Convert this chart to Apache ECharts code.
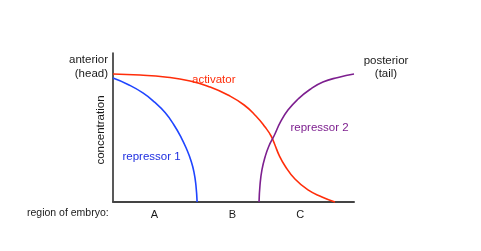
<!DOCTYPE html>
<html>
<head>
<meta charset="utf-8">
<script src="https://cdn.jsdelivr.net/npm/echarts@6/dist/echarts.min.js"></script>
<style>
  html, body { margin: 0; padding: 0; background: #fff; }
  #chart { width: 481px; height: 251px; }
</style>
</head>
<body>
<div id="chart"></div>
<script>
// Position along the embryo (0 = anterior, 100 = posterior) and relative concentration (0-100)
const activatorX = [0, 11.2, 21.6, 32.0, 40.2, 47.7, 54.4, 59.3, 63.1, 65.6, 67.2, 68.9, 71.4, 75.5, 80.9, 86.7, 92.1];
const activatorY = [85.9, 85.2, 83.9, 81.2, 77.2, 71.8, 65.1, 57.7, 50.3, 44.3, 38.3, 31.5, 24.2, 15.4, 8.1, 3.4, 0];

const repressor1X = [0, 6.2, 12.4, 17.4, 21.6, 25.3, 28.2, 30.7, 32.4, 33.6, 34.4, 34.9];
const repressor1Y = [83.2, 78.9, 73.2, 66.8, 60.1, 51.7, 43.6, 34.9, 27.5, 20.1, 11.4, 0];

const repressor2X = [60.6, 61.0, 61.8, 63.1, 64.7, 66.8, 69.5, 72.6, 76.8, 81.7, 87.1, 93.4, 100];
const repressor2Y = [0, 11.4, 21.5, 30.2, 37.6, 44.3, 53.7, 61.7, 69.1, 75.5, 80.5, 83.6, 85.9];

const regionLabels = ['A', 'B', 'C'];

const pairs = (xs, ys) => xs.map((x, i) => [x, ys[i]]);

const FONT = 'Liberation Sans, Arial, sans-serif';
const chart = echarts.init(document.getElementById('chart'), null, { renderer: 'canvas' });

const textEl = (x, y, text, opts) => ({
  type: 'text',
  x: x, y: y,
  style: Object.assign({
    text: text,
    fill: '#1a1a1a',
    font: '11.5px ' + FONT,
    textAlign: 'left',
    textVerticalAlign: 'middle'
  }, opts || {})
});

const regionX = [154.5, 232.5, 300.3];

chart.setOption({
  animation: false,
  backgroundColor: '#ffffff',
  grid: { left: 113, right: 127, top: 53, bottom: 49, containLabel: false },
  xAxis: {
    type: 'value', min: 0, max: 100,
    axisLine: { show: true, onZero: false, lineStyle: { color: '#444', width: 2 } },
    axisTick: { show: false }, axisLabel: { show: false }, splitLine: { show: false }
  },
  yAxis: {
    type: 'value', min: 0, max: 100,
    axisLine: { show: true, onZero: false, lineStyle: { color: '#222', width: 1.5 } },
    axisTick: { show: false }, axisLabel: { show: false }, splitLine: { show: false }
  },
  series: [
    {
      name: 'activator', type: 'line', data: pairs(activatorX, activatorY),
      smooth: 0.5, showSymbol: false, clip: false,
      lineStyle: { color: '#ff2d0a', width: 1.6 }
    },
    {
      name: 'repressor 1', type: 'line', data: pairs(repressor1X, repressor1Y),
      smooth: 0.5, showSymbol: false, clip: false,
      lineStyle: { color: '#1f45ff', width: 1.6 }
    },
    {
      name: 'repressor 2', type: 'line', data: pairs(repressor2X, repressor2Y),
      smooth: 0.5, showSymbol: false, clip: false,
      lineStyle: { color: '#7d1f8f', width: 1.6 }
    }
  ],
  graphic: [
    textEl(108, 60, 'anterior', { textAlign: 'right' }),
    textEl(108, 74, '(head)', { textAlign: 'right' }),
    textEl(386, 61, 'posterior', { textAlign: 'center' }),
    textEl(386, 74, '(tail)', { textAlign: 'center' }),
    {
      type: 'text', x: 101, y: 130, rotation: Math.PI / 2,
      style: { text: 'concentration', fill: '#1a1a1a', font: '11.5px ' + FONT,
               textAlign: 'center', textVerticalAlign: 'middle' }
    },
    textEl(192, 80, 'activator', { fill: '#ff2d0a' }),
    textEl(122.5, 157, 'repressor 1', { fill: '#1f2fe0' }),
    textEl(290.5, 128, 'repressor 2', { fill: '#7d1f8f' }),
    textEl(27, 213, 'region of embryo:', { font: '10.5px ' + FONT }),
    ...regionLabels.map((t, i) => textEl(regionX[i], 215, t, { textAlign: 'center', font: '11px ' + FONT }))
  ]
});
</script>
</body>
</html>
